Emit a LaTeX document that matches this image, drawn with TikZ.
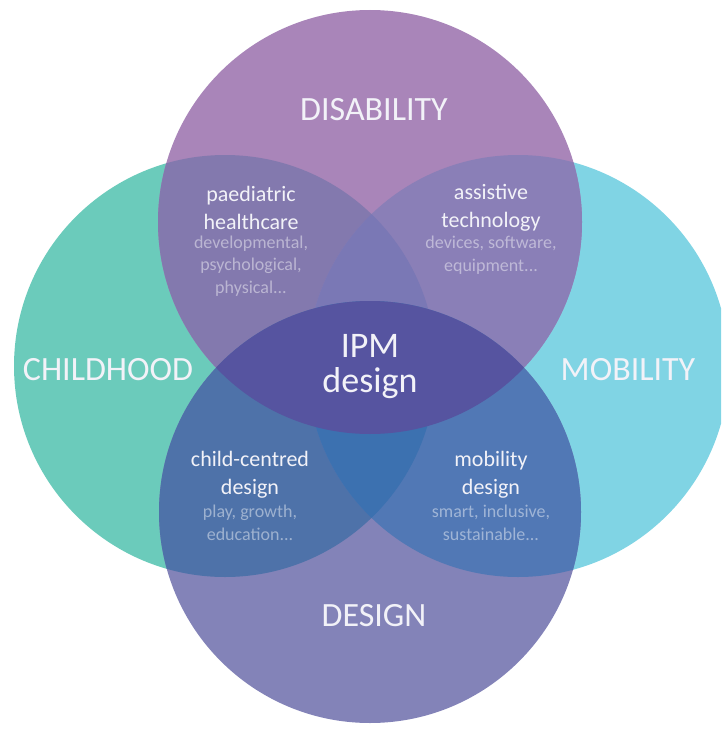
\documentclass[tikz,border=0pt]{standalone}
\usepackage{fontspec}
\setmainfont{Carlito}
\definecolor{cT}{HTML}{A985B9}
\definecolor{cL}{HTML}{6BCBBB}
\definecolor{cR}{HTML}{80D4E4}
\definecolor{cB}{HTML}{8383B8}
\definecolor{cTL}{HTML}{8379AE}
\definecolor{cTR}{HTML}{8A7FB7}
\definecolor{cBL}{HTML}{4E72A9}
\definecolor{cBR}{HTML}{5178B5}
\definecolor{cTLR}{HTML}{7A78B5}
\definecolor{cBLR}{HTML}{3C71B0}
\definecolor{cTB}{HTML}{5654A0}
\definecolor{txt}{HTML}{F2F2F8}
\tikzset{
  big/.style={text=txt, font=\fontsize{34}{38}\selectfont, inner sep=0pt},
  ipm/.style={text=txt, font=\fontsize{36}{35}\selectfont, align=center, inner sep=0pt},
  ttl/.style={text=txt, font=\fontsize{22}{28}\selectfont, align=center, inner sep=0pt},
  sub/.style={text=white, text opacity=0.45, font=\fontsize{18}{22.5}\selectfont, align=center, inner sep=0pt},
}
\def\cT{(370,222) circle (212)}
\def\cB{(370,512) circle (211)}
\def\cL{(225,366) circle (211)}
\def\cR{(518,366) circle (211)}
\begin{document}
\begin{tikzpicture}[x=1pt,y=-1pt]
\useasboundingbox (0,0) rectangle (721,733);
\begin{scope}
\clip (0,0) rectangle (721,733);
\fill[cL] \cL;
\fill[cR] \cR;
\fill[cT] \cT;
\fill[cB] \cB;
\begin{scope}
  \clip \cT;
  \fill[cTL] \cL;
  \fill[cTR] \cR;
\end{scope}
\begin{scope}
  \clip \cB;
  \fill[cBL] \cL;
  \fill[cBR] \cR;
\end{scope}
\begin{scope}
  \clip \cL;
  \clip \cR;
  \fill[cTLR] \cT;
  \fill[cBLR] \cB;
\end{scope}
\begin{scope}
  \clip \cT;
  \fill[cTB] \cB;
\end{scope}
\end{scope}

\node[big] (dis) at (374,110) {DISABILITY};
\node[big] (chi) at (108,370) {CHILDHOOD};
\node[big] (mob) at (628,370) {MOBILITY};
\node[big] (des) at (374,616) {DESIGN};

\node[ipm] (ipm) at (370,367) {IPM\\design};

\node[ttl] (ph) at (251,208) {paediatric\\healthcare};
\node[sub] (phs) at (251,266) {developmental,\\psychological,\\physical...};

\node[ttl] (at) at (491,208) {assistive\\technology};
\node[sub] (ats) at (491,255) {devices, software,\\equipment...};

\node[ttl] (cc) at (250,475) {child-centred\\design};
\node[sub] (ccs) at (250,523) {play, growth,\\education...};

\node[ttl] (md) at (491,475) {mobility\\design};
\node[sub] (mds) at (491,523) {smart, inclusive,\\sustainable...};
\end{tikzpicture}
\end{document}
